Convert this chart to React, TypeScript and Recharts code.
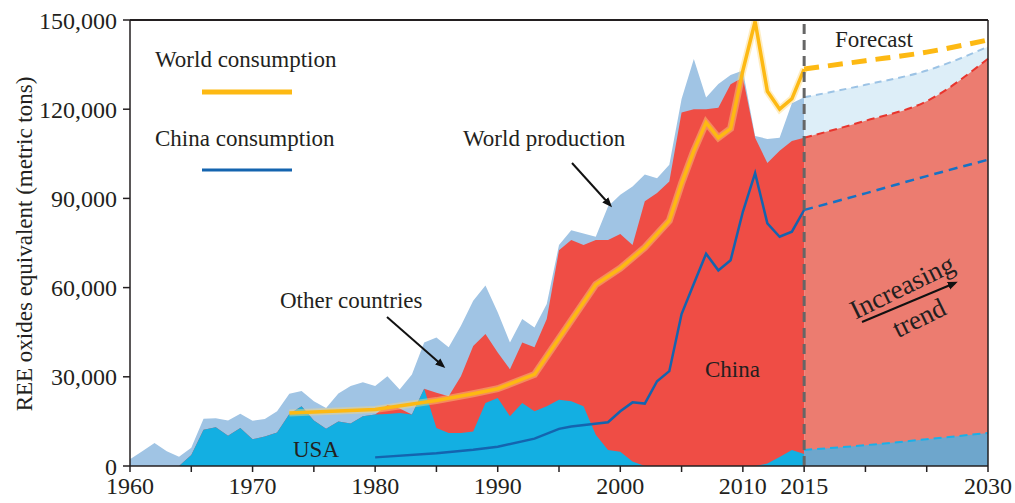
import React from "react";
import {
  ComposedChart,
  Area,
  Line,
  XAxis,
  YAxis,
  ReferenceLine,
} from "recharts";

// production by source, 1960-2015 (metric tons REO)
const years = Array.from({ length: 56 }, (_, i) => 1960 + i);

const usa = [
  0, 0, 0, 0, 0, 3700, 12200, 13000, 10200, 12800,
  9000, 9900, 11300, 17500, 20100, 15300, 12500, 15000, 14300, 16700,
  17300, 17500, 17800, 17300, 26000, 12800, 11100, 11100, 11600, 21200,
  22900, 16700, 21200, 18400, 20100, 22300, 21800, 20100, 10500, 5400,
  4800, 1500, 0, 0, 0, 0, 0, 0, 0, 0,
  0, 0, 800, 3000, 5400, 4000,
];

const china = [
  0, 0, 0, 0, 0, 0, 0, 0, 0, 0,
  0, 0, 0, 0, 0, 0, 0, 0, 0, 0,
  0, 3000, 1500, 0, 0, 11800, 12400, 19100, 28800, 23200,
  15300, 15800, 20300, 21500, 29300, 50300, 54200, 54200, 65500, 70600,
  73200, 72800, 89000, 91800, 95700, 118900, 120000, 120000, 120500, 128400,
  130700, 110400, 101100, 103000, 103900, 106400,
];

const other = [
  2300, 5000, 7700, 5000, 3100, 2400, 3700, 3100, 5100, 4800,
  6200, 5900, 7100, 6800, 5100, 6500, 7000, 9400, 12600, 11500,
  9600, 9700, 6400, 13500, 15500, 18600, 16400, 17000, 15200, 16300,
  13500, 9000, 7900, 6700, 5100, 1700, 3300, 3900, 1100, 11300,
  13200, 19700, 9000, 5000, 5600, 4500, 16900, 3900, 8000, 3100,
  2300, 600, 8100, 4400, 12700, 13600,
];

// consumption
const worldConsYears = [1973, 1980, 1985, 1988, 1990, 1993, 1998, 2000, 2002, 2004, 2005, 2006, 2007, 2008, 2009, 2010, 2011, 2012, 2013, 2014, 2015];
const worldCons = [17800, 19000, 22000, 24300, 26000, 30800, 61000, 66500, 73500, 82500, 95000, 106000, 115500, 110400, 113500, 133000, 149500, 126000, 120000, 123500, 133500];

const chinaConsYears = [1980, 1985, 1988, 1990, 1993, 1995, 1996, 1999, 2000, 2001, 2002, 2003, 2004, 2005, 2006, 2007, 2008, 2009, 2010, 2011, 2012, 2013, 2014, 2015];
const chinaCons = [2900, 4300, 5500, 6500, 9200, 12500, 13300, 14700, 18400, 21400, 21000, 28500, 31900, 51100, 61300, 71400, 65800, 69200, 85500, 98500, 81600, 77100, 78800, 86100];

// forecast
const forecastYears = [2015, 2020, 2025, 2030];
const forecastUsa = [5400, 7000, 9000, 11100];
const forecastChina = [105000, 109100, 113700, 125900];
const forecastOther = [13600, 12100, 10300, 4000];
const forecastWorldCons = [133500, 136300, 139200, 143300];
const forecastChinaCons = [86100, 91700, 97500, 103000];

const xTicks = [1960, 1965, 1970, 1975, 1980, 1985, 1990, 1995, 2000, 2005, 2010, 2015, 2020, 2025, 2030];
const xLabels = [1960, 1970, 1980, 1990, 2000, 2010, 2015, 2030];
const yTicks = [0, 30000, 60000, 90000, 120000, 150000];

type Row = { [k: string]: number | undefined };

const buildData = () => {
  const rows: Row[] = years.map((year, i) => ({
    year,
    usaTop: usa[i],
    chinaTop: usa[i] + china[i],
    total: usa[i] + china[i] + other[i],
  }));
  forecastYears.forEach((year) => {
    if (!rows.find((r) => r.year === year)) rows.push({ year });
  });
  const byYear = (y: number) => rows.find((r) => r.year === y) as Row;
  forecastYears.forEach((y, i) => {
    const r = byYear(y);
    r.fUsa = forecastUsa[i];
    r.fChina = forecastUsa[i] + forecastChina[i];
    r.fTotal = forecastUsa[i] + forecastChina[i] + forecastOther[i];
    r.fWorldCons = forecastWorldCons[i];
    r.fChinaCons = forecastChinaCons[i];
  });
  worldConsYears.forEach((y, i) => (byYear(y).worldCons = worldCons[i]));
  chinaConsYears.forEach((y, i) => (byYear(y).chinaCons = chinaCons[i]));
  return rows;
};

const data = buildData();

const FONT = "'Liberation Serif', 'Times New Roman', serif";
const textStyle = { fontFamily: FONT, fill: "#231f20" };

const App = () => {
  return (
    <div style={{ position: "absolute", left: 0, top: 0, width: 1015, height: 503, background: "#fff" }}>
      <ComposedChart
        width={1015}
        height={503}
        data={data}
        margin={{ top: 20, right: 27, left: 0, bottom: 0 }}
      >
        <XAxis
          dataKey="year"
          type="number"
          domain={[1960, 2030]}
          ticks={xTicks}
          tickFormatter={(v) => (xLabels.includes(v) ? String(v) : "")}
          interval={0}
          height={37}
          tickSize={6}
          tickMargin={5}
          stroke="#231f20"
          strokeWidth={1.5}
          tick={{ ...textStyle, fontSize: 24 }}
        />
        <YAxis
          type="number"
          domain={[0, 150000]}
          ticks={yTicks}
          width={130}
          tickSize={7}
          tickMargin={6}
          stroke="#231f20"
          strokeWidth={1.5}
          tickFormatter={(v) => v.toLocaleString("en-US")}
          tick={{ ...textStyle, fontSize: 24 }}
        />

        {/* historical production, drawn as cumulative layers */}
        <Area dataKey="total" type="linear" stroke="none" fill="#a0c4e4" fillOpacity={1} isAnimationActive={false} activeDot={false} />
        <Area dataKey="chinaTop" type="linear" stroke="none" fill="#ef4d45" fillOpacity={1} isAnimationActive={false} activeDot={false} />
        <Area dataKey="usaTop" type="linear" stroke="none" fill="#13afe2" fillOpacity={1} isAnimationActive={false} activeDot={false} />

        {/* forecast */}
        <Area dataKey="fTotal" type="monotone" stroke="#9cc3e5" strokeWidth={2} strokeDasharray="7 5" fill="#ddeef8" fillOpacity={1} isAnimationActive={false} activeDot={false} />
        <Area dataKey="fChina" type="monotone" stroke="#e8352e" strokeWidth={2} strokeDasharray="8 5" fill="#ec7c70" fillOpacity={1} isAnimationActive={false} activeDot={false} />
        <Area dataKey="fUsa" type="monotone" stroke="#1ab0e8" strokeWidth={2} strokeDasharray="8 5" fill="#6ea6cc" fillOpacity={1} isAnimationActive={false} activeDot={false} />

        {/* consumption */}
        <Line dataKey="chinaCons" type="linear" stroke="#1464af" strokeWidth={2.5} dot={false} activeDot={false} connectNulls isAnimationActive={false} />
        <Line dataKey="fChinaCons" type="monotone" stroke="#1672c4" strokeWidth={2.5} strokeDasharray="9 6" dot={false} activeDot={false} isAnimationActive={false} />
        <Line dataKey="worldCons" type="linear" stroke="#fcd77a" strokeWidth={7} strokeOpacity={0.45} dot={false} activeDot={false} connectNulls isAnimationActive={false} />
        <Line dataKey="worldCons" type="linear" stroke="#fdb913" strokeWidth={3.5} dot={false} activeDot={false} connectNulls isAnimationActive={false} />
        <Line dataKey="fWorldCons" type="monotone" stroke="#fdb913" strokeWidth={5} strokeDasharray="15 9" dot={false} activeDot={false} isAnimationActive={false} />

        <ReferenceLine y={150000} stroke="#231f20" strokeWidth={2} />
        <ReferenceLine x={2030} stroke="#231f20" strokeWidth={1.5} />
        <ReferenceLine x={2015} stroke="#666" strokeWidth={3} strokeDasharray="10 6" />
      </ComposedChart>

      <svg
        width={1015}
        height={503}
        style={{ position: "absolute", left: 0, top: 0, pointerEvents: "none" }}
      >
        <defs>
          <marker id="head" markerWidth="10" markerHeight="10" refX="7" refY="5" orient="auto" markerUnits="userSpaceOnUse">
            <path d="M0,1 L10,5 L0,9 z" fill="#111" />
          </marker>
        </defs>
        <text
          transform="translate(24,244) rotate(-90)"
          textAnchor="middle"
          dominantBaseline="central"
          style={{ ...textStyle, fontSize: 23 }}
        >
          REE oxides equivalent (metric tons)
        </text>

        <text x={155} y={67} style={{ ...textStyle, fontSize: 23 }}>World consumption</text>
        <line x1={202} y1={92} x2={292} y2={92} stroke="#fdb913" strokeWidth={5} />
        <text x={155} y={146} style={{ ...textStyle, fontSize: 23 }}>China consumption</text>
        <line x1={202} y1={170} x2={292} y2={170} stroke="#1464af" strokeWidth={3} />

        <text x={463} y={146} style={{ ...textStyle, fontSize: 23 }}>World production</text>
        <line x1={572} y1={163} x2={610} y2={205} stroke="#111" strokeWidth={2} markerEnd="url(#head)" />

        <text x={280} y={308} style={{ ...textStyle, fontSize: 23 }}>Other countries</text>
        <line x1={387} y1={317} x2={443} y2={366} stroke="#111" strokeWidth={2} markerEnd="url(#head)" />

        <text x={705} y={377} style={{ ...textStyle, fontSize: 23 }}>China</text>
        <text x={293} y={457} style={{ ...textStyle, fontSize: 23 }}>USA</text>
        <text x={835} y={47} style={{ ...textStyle, fontSize: 23 }}>Forecast</text>

        <text transform="translate(906,295) rotate(-26)" textAnchor="middle" style={{ ...textStyle, fontSize: 27 }}>
          Increasing
        </text>
        <text transform="translate(923,326) rotate(-26)" textAnchor="middle" style={{ ...textStyle, fontSize: 27 }}>
          trend
        </text>
        <line x1={862} y1={322} x2={955} y2={283} stroke="#111" strokeWidth={2} markerEnd="url(#head)" />
      </svg>
    </div>
  );
};

export default App;
